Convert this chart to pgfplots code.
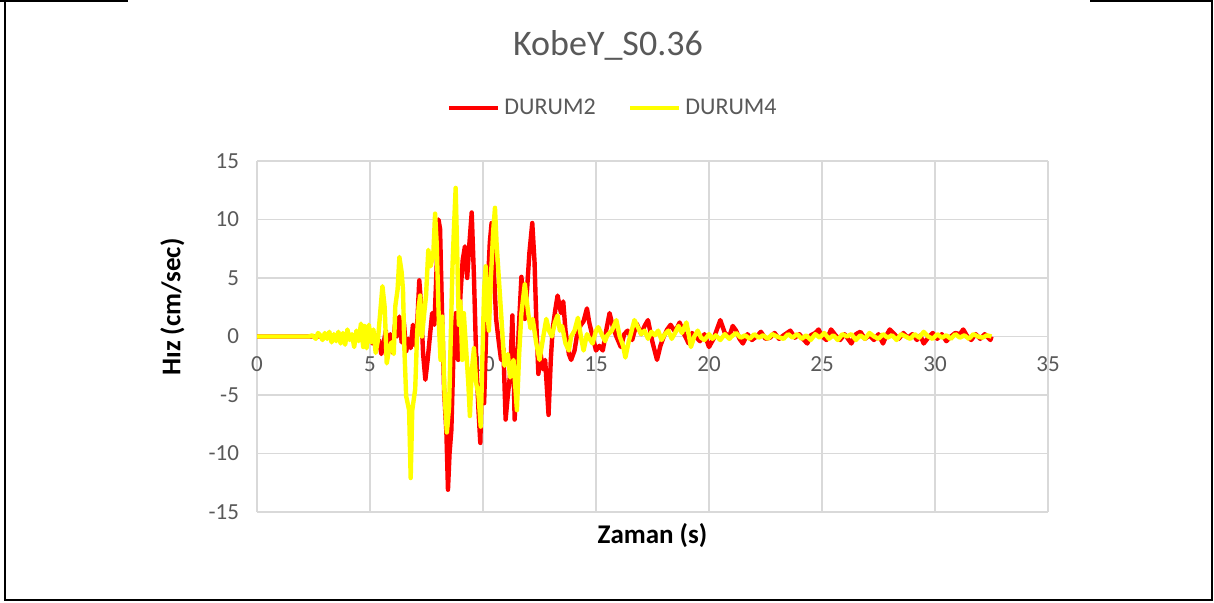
\documentclass[border=0pt]{standalone}
\usepackage{pgfplots}
\pgfplotsset{compat=1.18}
\usepackage{fontspec}
\setmainfont{Carlito}
\definecolor{txtgray}{RGB}{89,89,89}
\definecolor{gridgray}{RGB}{217,217,217}
\definecolor{dred}{RGB}{255,0,0}
\definecolor{dyel}{RGB}{255,255,0}

\begin{document}
\begin{tikzpicture}
\useasboundingbox (0,0) rectangle (607pt,301.5pt);
\draw[line width=1pt] (0,301pt) -- (64pt,301pt);
\draw[line width=1pt] (2.25pt,301.5pt) -- (2.25pt,1.5pt) -- (606pt,1.5pt) -- (606pt,301pt) -- (545pt,301pt);
\begin{axis}[
  at={(128.5pt,45.5pt)}, anchor=south west,
  scale only axis, width=395.5pt, height=175.5pt,
  xmin=0, xmax=35, ymin=-15, ymax=15,
  xtick={0,5,...,35}, ytick={-15,-10,...,15},
  axis x line=middle, axis y line=left,
  hide obscured x ticks=false, hide obscured y ticks=false,
  x axis line style={-, draw=gridgray, line width=0.8pt},
  y axis line style={-, draw=gridgray, line width=0.8pt},
  grid=major, major grid style={draw=gridgray, line width=0.8pt},
  major tick length=0pt,
  /pgf/number format/assume math mode=true,
  ticklabel style={font=\fontsize{11.5}{13}\selectfont, text=txtgray},
  xticklabel style={anchor=north, yshift=-6.5pt},
  yticklabel style={anchor=east, xshift=-5.5pt},
  every axis x label/.style={at={(axis description cs:0.5,-0.068)}, anchor=center},
  every axis y label/.style={at={(axis description cs:-0.107,0.584)}, anchor=center, rotate=90},
  xlabel={Zaman (s)}, ylabel={Hız (cm/sec)},
  label style={font=\fontsize{13.5}{15}\selectfont\bfseries, text=black},
  legend style={at={(axis description cs:0.451,1.151)}, anchor=center, draw=none, fill=none,
    font=\fontsize{12}{14}\selectfont, text=txtgray, legend columns=2,
    /tikz/every even column/.append style={column sep=14pt}},
  legend image code/.code={\draw[#1, line width=2.3pt] (0pt,0pt) -- (24.5pt,0pt);},
  clip=false,
]
\addplot[dred, line width=2.2pt, line join=round, mark=none] coordinates {
(0,0) (4.5,0) (4.7,0.3) (4.85,-0.4) (5.0,0.5) (5.1,-0.6) (5.2,0.2) (5.3,-1.0) (5.4,-0.3) (5.5,-1.5)
(5.6,-0.6) (5.7,0.5) (5.8,-1.2) (5.9,0.2) (6.0,-1.4) (6.1,1.0) (6.2,0.0) (6.3,1.7) (6.4,-0.5) (6.5,1.2)
(6.6,-1.3) (6.7,-0.2) (6.8,-1.0) (6.9,1.0) (7.0,-0.8) (7.1,1.5) (7.18,4.8) (7.25,3.0) (7.35,-1.5) (7.45,-3.7)
(7.55,-2.0) (7.65,0.0) (7.75,2.0) (7.85,1.0) (7.95,6.0) (8.03,10.0) (8.1,9.2) (8.18,2.6) (8.28,-4.7) (8.38,-8.2)
(8.45,-13.1) (8.52,-10.0) (8.6,-8.0) (8.7,-1.0) (8.8,2.0) (8.9,-2.0) (9.0,3.5) (9.1,6.5) (9.2,7.7) (9.3,5.0)
(9.4,8.0) (9.5,10.6) (9.6,5.1) (9.7,-2.0) (9.8,-6.3) (9.88,-9.1) (9.95,-4.0) (10.05,-5.7) (10.15,1.0) (10.22,4.6)
(10.3,8.0) (10.38,9.7) (10.48,5.8) (10.58,1.5) (10.7,-0.5) (10.8,-2.0) (10.9,-1.0) (11.0,-7.1) (11.1,-5.0) (11.2,-3.2)
(11.3,1.8) (11.4,-7.1) (11.5,-3.0) (11.58,0.5) (11.7,5.1) (11.85,1.5) (11.95,4.0) (12.05,7.1) (12.18,9.7) (12.28,6.4)
(12.37,0.6) (12.45,-3.2) (12.55,-1.5) (12.65,-2.8) (12.75,-2.0) (12.9,-6.7) (13.0,-2.0) (13.08,0.6) (13.2,2.3) (13.3,3.5)
(13.45,2.0) (13.55,3.0) (13.65,0.5) (13.8,-1.5) (13.9,-2.0) (14.05,-1.2) (14.15,0.0) (14.3,0.9) (14.45,1.3) (14.6,2.4)
(14.7,1.2) (14.85,0.0) (15.0,-1.2) (15.15,-0.8) (15.3,-1.2) (15.45,0.5) (15.6,2.0) (15.75,0.8) (15.9,0.0) (16.1,-0.9)
(16.25,0.2) (16.4,0.5) (16.6,-0.3) (16.8,1.1) (17.0,0.2) (17.15,0.9) (17.3,1.4) (17.5,-0.5) (17.7,-2.0) (17.85,-0.8)
(18.0,0.0) (18.15,0.6) (18.3,1.0) (18.5,0.4) (18.7,1.2) (18.9,0.2) (19.1,-0.6) (19.25,0.3) (19.4,0.0) (19.6,-0.4)
(19.8,0.2) (20.0,-0.9) (20.2,-0.2) (20.35,0.6) (20.5,1.4) (20.7,0.3) (20.9,0.0) (21.05,0.9) (21.2,0.5) (21.35,-0.2)
(21.5,-0.6) (21.7,0.2) (21.9,-0.3) (22.1,0.0) (22.3,0.4) (22.5,-0.2) (22.7,-0.1) (22.9,0.3) (23.1,-0.2) (23.3,0.1)
(23.6,0.5) (23.8,-0.1) (24.0,0.2) (24.2,-0.3) (24.35,-0.6) (24.5,0.1) (24.7,0.3) (24.85,0.6) (25.0,0.0) (25.2,-0.3)
(25.4,0.6) (25.6,0.1) (25.8,-0.3) (26.0,0.2) (26.15,-0.2) (26.3,-0.6) (26.5,0.2) (26.7,0.4) (26.9,-0.2) (27.1,0.1)
(27.3,-0.3) (27.5,0.2) (27.7,-0.6) (27.85,0.1) (28.0,0.6) (28.2,0.2) (28.4,-0.2) (28.6,0.3) (28.8,-0.1) (29.0,0.2)
(29.2,-0.3) (29.35,0.1) (29.5,-0.6) (29.7,-0.1) (29.9,0.3) (30.1,-0.2) (30.3,0.2) (30.5,-0.4) (30.7,0.0) (30.9,0.3)
(31.1,0.2) (31.25,0.6) (31.4,0.1) (31.6,-0.3) (31.8,0.2) (32.0,-0.2) (32.2,0.2) (32.45,-0.3) (32.5,0.0)
};
\addlegendentry{DURUM2}
\addplot[dyel, line width=2.2pt, line join=round, mark=none] coordinates {
(0,0) (2.3,0) (2.45,0.1) (2.6,-0.2) (2.7,0.3) (2.8,0.1) (2.9,-0.3) (3.0,0.3) (3.1,-0.2) (3.2,0.4)
(3.3,-0.5) (3.4,0.2) (3.5,-0.4) (3.6,0.4) (3.7,-0.6) (3.8,0.3) (3.9,-0.7) (4.0,0.6) (4.1,-0.3) (4.2,0.2)
(4.3,-0.9) (4.4,0.5) (4.5,-0.4) (4.6,1.1) (4.7,-0.9) (4.75,0.9) (4.85,-1.0) (4.95,1.0) (5.05,-0.5) (5.15,0.6)
(5.25,-1.4) (5.35,-0.3) (5.45,2.0) (5.55,4.3) (5.65,2.5) (5.74,-2.3) (5.85,-1.0) (5.95,-0.5) (6.05,-1.5) (6.12,2.6)
(6.22,4.0) (6.3,6.8) (6.4,5.5) (6.46,4.0) (6.52,-1.0) (6.6,-5.1) (6.73,-6.3) (6.8,-12.1) (6.87,-6.3) (7.0,-4.5)
(7.08,0.0) (7.15,2.5) (7.22,3.5) (7.3,0.0) (7.4,2.0) (7.48,3.5) (7.58,7.4) (7.68,6.0) (7.8,7.0) (7.88,10.5)
(7.95,8.0) (8.05,1.0) (8.12,-2.0) (8.2,1.7) (8.3,-5.0) (8.4,-8.2) (8.5,-6.0) (8.58,0.5) (8.65,6.0) (8.72,9.5)
(8.79,12.7) (8.86,7.0) (8.93,1.0) (9.0,3.0) (9.08,-2.0) (9.15,2.0) (9.25,-1.0) (9.35,-4.0) (9.42,-6.8) (9.5,-3.0)
(9.6,-1.0) (9.7,-4.0) (9.8,-5.0) (9.9,-7.7) (9.97,-2.0) (10.05,4.0) (10.12,6.0) (10.2,2.0) (10.26,0.5) (10.35,5.0)
(10.45,9.0) (10.53,11.0) (10.6,8.0) (10.7,5.0) (10.8,2.0) (10.95,-2.5) (11.1,-1.5) (11.2,-3.5) (11.35,-2.0) (11.5,-6.3)
(11.6,-1.5) (11.7,2.0) (11.85,4.5) (12.0,2.0) (12.1,0.7) (12.2,1.5) (12.35,-0.5) (12.5,-2.0) (12.67,0.0) (12.8,1.5)
(12.92,0.5) (13.05,0.0) (13.18,1.2) (13.3,1.8) (13.4,0.5) (13.5,0.9) (13.65,-0.6) (13.8,-1.2) (13.9,0.0) (14.05,0.5)
(14.2,1.6) (14.35,-0.2) (14.45,-1.2) (14.6,0.2) (14.75,-0.3) (14.85,-0.6) (15.0,0.5) (15.1,0.8) (15.25,0.2) (15.4,-0.4)
(15.5,0.1) (15.7,0.5) (15.9,1.4) (16.05,0.0) (16.2,-0.8) (16.3,-1.8) (16.45,-0.4) (16.55,0.3) (16.7,1.4) (16.85,0.8)
(17.0,0.2) (17.15,0.5) (17.3,-0.2) (17.45,0.4) (17.6,0.1) (17.75,0.5) (17.9,-0.3) (18.05,0.2) (18.2,0.5) (18.35,-0.2)
(18.5,0.3) (18.65,0.9) (18.8,0.3) (19.0,1.2) (19.1,0.2) (19.2,-0.9) (19.35,0.0) (19.5,0.5) (19.65,-0.1) (19.8,-0.3)
(20.0,0.2) (20.15,-0.2) (20.3,0.1) (20.5,-0.3) (20.7,0.2) (20.9,-0.2) (21.0,0.0) (21.2,0.3) (21.4,-0.1) (21.6,0.1)
(21.8,-0.2) (22.0,0.2) (22.2,-0.1) (22.4,0.1) (22.6,-0.2) (22.8,0.2) (23.0,0.0) (23.3,-0.2) (23.5,0.2) (23.7,-0.1)
(23.9,0.2) (24.1,-0.2) (24.3,0.1) (24.5,-0.3) (24.7,0.2) (24.9,-0.1) (25.1,0.3) (25.3,-0.2) (25.5,0.1) (25.7,-0.3)
(25.9,0.2) (26.1,0.0) (26.3,0.2) (26.5,-0.3) (26.7,0.1) (26.9,-0.2) (27.1,0.3) (27.3,0.0) (27.5,-0.2) (27.7,0.2)
(27.9,-0.1) (28.1,0.1) (28.3,-0.3) (28.5,0.2) (28.7,0.0) (28.9,-0.2) (29.1,0.2) (29.3,-0.1) (29.5,0.4) (29.7,0.0)
(29.9,-0.2) (30.1,0.2) (30.3,-0.1) (30.5,0.1) (30.7,-0.2) (30.9,0.2) (31.1,-0.1) (31.3,0.1) (31.5,-0.2) (31.7,0.2)
(31.9,0.0) (32.1,-0.1) (32.3,0.1) (32.5,0.0)
};
\addlegendentry{DURUM4}
\end{axis}
\node[font=\fontsize{18}{21}\selectfont, text=txtgray] at (304pt,279pt) {KobeY\_S0.36};
\end{tikzpicture}
\end{document}
